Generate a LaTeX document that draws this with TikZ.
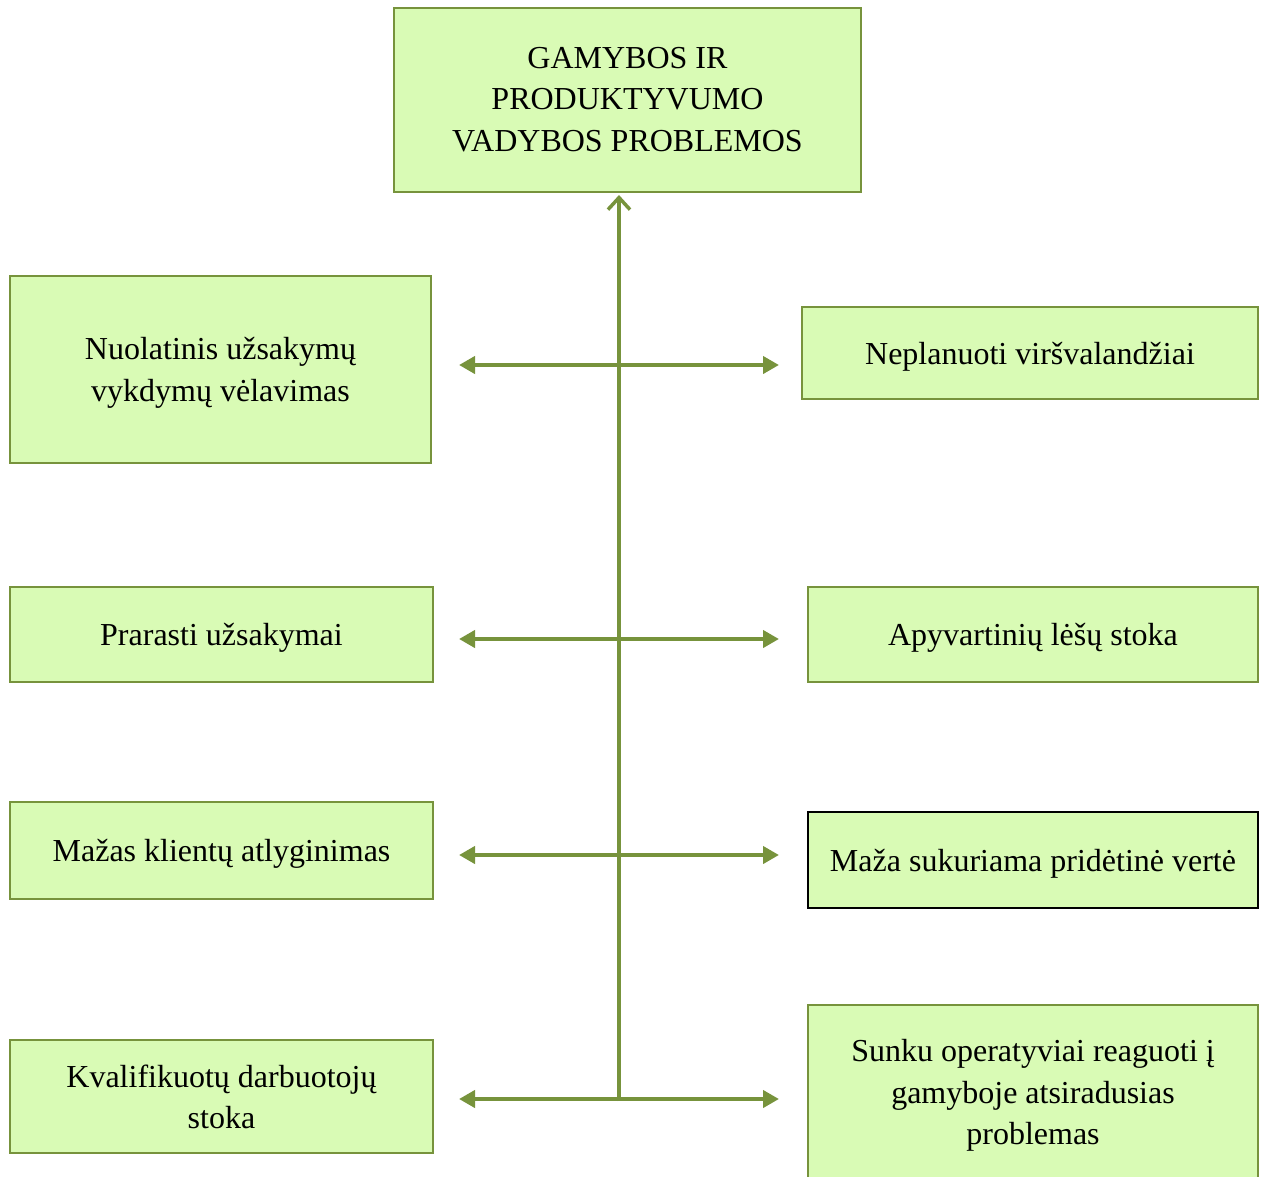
\documentclass[tikz,border=0pt]{standalone}
\usepackage{fontspec}
\setmainfont{Liberation Serif}
\usetikzlibrary{arrows.meta}
\definecolor{boxfill}{RGB}{217,251,181}
\definecolor{olive}{RGB}{119,147,60}
\begin{document}
\begin{tikzpicture}[x=1pt,y=-1pt,
  box/.style={draw=olive,line width=1.5pt,fill=boxfill,inner sep=0pt},
  txt/.style={align=center,inner sep=0pt,yshift=-3.5pt,
    font=\fontsize{32}{41.5}\selectfont,text=black},
  link/.style={olive,line width=4pt,{Triangle[length=16pt,width=17pt]}-{Triangle[length=16pt,width=17pt]}},
  trunk/.style={olive,line width=4pt,-{Straight Barb[length=12pt,width=22pt,line width=3.5pt]}}]
\useasboundingbox (0,0) rectangle (1264,1176);
\node[box,minimum width=467pt,minimum height=184pt,
  label={[txt,yshift=4pt]center:{GAMYBOS IR\\PRODUKTYVUMO\\VADYBOS PROBLEMOS}}] (top) at (627.5,100) {};
\node[box,minimum width=421pt,minimum height=187pt,
  label={[txt]center:{Nuolatinis užsakymų\\vykdymų vėlavimas}}] (l1) at (220.5,369.5) {};
\node[box,minimum width=456pt,minimum height=92pt,
  label={[txt]center:{Neplanuoti viršvalandžiai}}] (r1) at (1030,353) {};
\node[box,minimum width=423pt,minimum height=95pt,
  label={[txt]center:{Prarasti užsakymai}}] (l2) at (221.5,634.5) {};
\node[box,minimum width=450pt,minimum height=95pt,
  label={[txt]center:{Apyvartinių lėšų stoka}}] (r2) at (1033,634.5) {};
\node[box,minimum width=423pt,minimum height=97pt,
  label={[txt]center:{Mažas klientų atlyginimas}}] (l3) at (221.5,850.5) {};
\node[box,draw=black,minimum width=450pt,minimum height=96pt,
  label={[txt]center:{Maža sukuriama pridėtinė vertė}}] (r3) at (1033,860) {};
\node[box,minimum width=423pt,minimum height=113pt,
  label={[txt,yshift=3pt]center:{Kvalifikuotų darbuotojų\\stoka}}] (l4) at (221.5,1096.5) {};
\node[box,minimum width=450pt,minimum height=180pt,
  label={[txt,yshift=3pt]center:{Sunku operatyviai reaguoti į\\gamyboje atsiradusias\\problemas}}] (r4) at (1033,1095) {};
\coordinate (h1l) at (459,365); \coordinate (h1r) at (779,365);
\coordinate (h2l) at (459,639); \coordinate (h2r) at (779,639);
\coordinate (h3l) at (459,855); \coordinate (h3r) at (779,855);
\coordinate (h4l) at (459,1099); \coordinate (h4r) at (779,1099);
\coordinate (vb) at (619,1101);
\coordinate (vt) at (619,195);
\draw[trunk] (vb) -- (vt);
\draw[link] (h1l) -- (h1r);
\draw[link] (h2l) -- (h2r);
\draw[link] (h3l) -- (h3r);
\draw[link] (h4l) -- (h4r);
\end{tikzpicture}
\end{document}
